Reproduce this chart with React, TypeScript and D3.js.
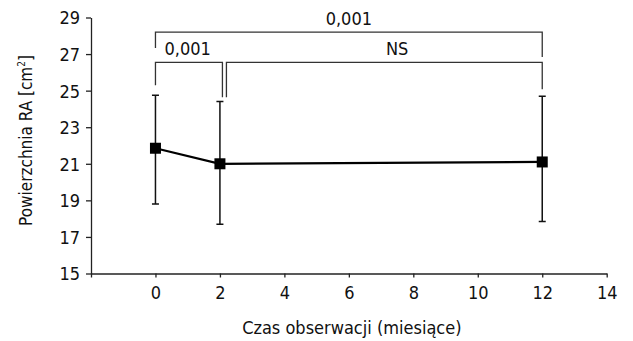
import { useEffect, useRef } from 'react';
import * as d3 from 'd3';

// observation months and RA area (cm²): mean with lower / upper error bar ends
const months = [0, 2, 12];
const meanArea = [21.85, 21.0, 21.1];
const lowerArea = [18.8, 17.7, 17.85];
const upperArea = [24.75, 24.4, 24.7];

const xTicks = [-2, 0, 2, 4, 6, 8, 10, 12, 14];
const yTicks = [15, 17, 19, 21, 23, 25, 27, 29];

// significance brackets: span in months, level and leg ends in cm²
const bracketLabels = ['0,001', '0,001', 'NS'];
const bracketFrom = [0, 0, 2];
const bracketTo = [12, 2, 12];
const bracketLevel = [28.2, 26.55, 26.55];
const bracketLegFrom = [27.33, 25.3, 24.64];
const bracketLegTo = [26.84, 24.64, 25.08];
const bracketLabelAt = [6, 1, 7.5];

const FONT = "'DejaVu Sans Condensed', 'Liberation Sans', sans-serif";

export default function App() {
  const svgRef = useRef<SVGSVGElement>(null);

  const width = 633;
  const height = 341;

  useEffect(() => {
    const svg = d3.select(svgRef.current);
    svg.selectAll('*').remove();

    const x = d3.scaleLinear().domain([-2, 14]).range([91, 606.7]);
    const y = d3.scaleLinear().domain([15, 29]).range([273.5, 17.5]);

    // axes
    const xAxis = svg
      .append('g')
      .attr('transform', `translate(0,${y(15)})`)
      .call(
        d3
          .axisBottom(x)
          .tickValues(xTicks)
          .tickSize(4)
          .tickSizeOuter(0)
          .tickFormat((d) => (+d < 0 ? '' : String(d))),
      );
    const yAxis = svg
      .append('g')
      .attr('transform', `translate(${x(-2)},0)`)
      .call(
        d3
          .axisLeft(y)
          .tickValues(yTicks)
          .tickSize(5)
          .tickSizeOuter(0)
          .tickFormat((d) => String(d)),
      );
    [xAxis, yAxis].forEach((g) => {
      g.selectAll('path, line').attr('stroke', '#222').attr('stroke-width', 1.3);
      g.selectAll('text')
        .attr('font-family', FONT)
        .attr('font-size', 18)
        .attr('fill', '#111');
    });
    xAxis.selectAll('text').attr('dy', '1.02em');
    yAxis.selectAll('text').attr('x', -11).attr('dy', '0.36em');

    // axis titles
    svg
      .append('text')
      .attr('x', (x(-2) + x(14)) / 2 + 3)
      .attr('y', 334)
      .attr('text-anchor', 'middle')
      .attr('font-family', FONT)
      .attr('font-size', 18)
      .attr('fill', '#111')
      .text('Czas obserwacji (miesiące)');

    const yTitle = svg
      .append('text')
      .attr('transform', `translate(32,${(y(15) + y(29)) / 2 - 5}) rotate(-90)`)
      .attr('text-anchor', 'middle')
      .attr('font-family', FONT)
      .attr('font-size', 17)
      .attr('fill', '#111');
    yTitle.append('tspan').text('Powierzchnia RA [cm');
    yTitle.append('tspan').attr('font-size', 10).attr('dy', -7).text('2');
    yTitle.append('tspan').attr('dy', 7).text(']');

    // significance brackets
    const legOffset = [0, 2.5, 6.5];
    bracketLabels.forEach((label, i) => {
      const x0 = x(bracketFrom[i]) + (bracketFrom[i] === 2 ? legOffset[2] : 0);
      const x1 = x(bracketTo[i]) + (bracketTo[i] === 2 ? legOffset[1] : 0);
      const ly = y(bracketLevel[i]);
      svg
        .append('path')
        .attr(
          'd',
          `M${x0},${y(bracketLegFrom[i])}V${ly}H${x1}V${y(bracketLegTo[i])}`,
        )
        .attr('fill', 'none')
        .attr('stroke', '#333')
        .attr('stroke-width', 1.3);
      svg
        .append('text')
        .attr('x', x(bracketLabelAt[i]))
        .attr('y', ly - 7)
        .attr('text-anchor', 'middle')
        .attr('font-family', FONT)
        .attr('font-size', 18)
        .attr('fill', '#111')
        .text(label);
    });

    // error bars
    const capW = 3.5;
    const bars = svg.append('g').attr('stroke', '#111').attr('stroke-width', 1.5);
    months.forEach((m, i) => {
      const cx = x(m);
      bars
        .append('path')
        .attr(
          'd',
          `M${cx},${y(lowerArea[i])}V${y(upperArea[i])}` +
            `M${cx - capW},${y(lowerArea[i])}H${cx + capW}` +
            `M${cx - capW},${y(upperArea[i])}H${cx + capW}`,
        );
    });

    // mean line and square markers
    const line = d3
      .line<number>()
      .x((m) => x(m))
      .y((_, i) => y(meanArea[i]));
    svg
      .append('path')
      .attr('d', line(months) ?? '')
      .attr('fill', 'none')
      .attr('stroke', '#000')
      .attr('stroke-width', 2.2);

    const size = 11;
    svg
      .selectAll('rect.marker')
      .data(months)
      .join('rect')
      .attr('class', 'marker')
      .attr('x', (m) => x(m) - size / 2)
      .attr('y', (_, i) => y(meanArea[i]) - size / 2)
      .attr('width', size)
      .attr('height', size)
      .attr('fill', '#000');
  }, []);

  return (
    <svg
      ref={svgRef}
      width={width}
      height={height}
      viewBox={`0 0 ${width} ${height}`}
      style={{ position: 'absolute', left: 0, top: 0, background: '#fff' }}
    />
  );
}
